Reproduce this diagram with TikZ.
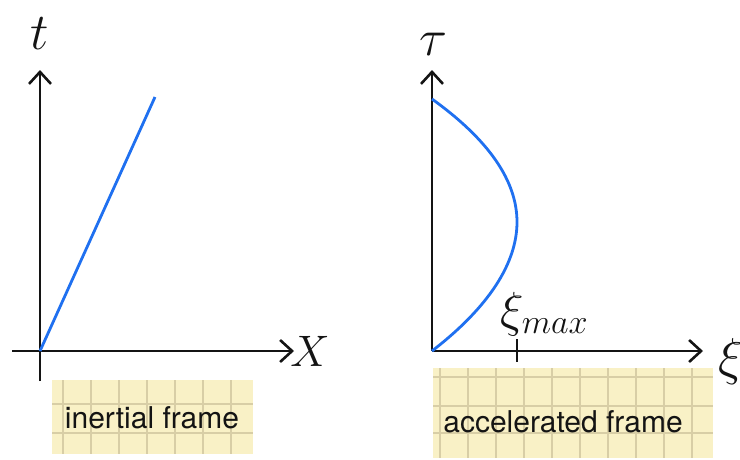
\documentclass[tikz,border=0pt]{standalone}
\usepackage{fontspec}
\setmainfont{TeX Gyre Heros}
\usepackage{tikz}
\usetikzlibrary{arrows.meta}
\definecolor{worldBlue}{HTML}{1F70F0}
\definecolor{padYellow}{HTML}{F9F1C6}
\definecolor{padLine}{HTML}{D8CEA6}
\definecolor{inkBlack}{HTML}{141414}
\tikzset{
  axis/.style    = {-{Straight Barb[length=12pt,width=22pt,line width=2.6pt]}, draw=inkBlack, line width=2.6pt},
  world/.style   = {draw=worldBlue, line width=2.8pt},
  pad/.style     = {fill=padYellow, draw=none},
  padgrid/.style = {draw=padLine, line width=1.2pt},
  tag/.style     = {font=\fontsize{30}{36}\selectfont, inner sep=0pt, text=inkBlack},
  hand/.style    = {font=\LARGE, scale=3, transform shape, inner sep=0pt, text=inkBlack},
  tickmark/.style= {draw=inkBlack, line width=2.6pt}
}
\begin{document}
\begin{tikzpicture}[x=1pt,y=-1pt]
  \useasboundingbox (0,0) rectangle (740,459);

  % inertial frame
  \fill[pad] (52,380) rectangle (253,454);
  \foreach \x in {63,91,...,235} \draw[padgrid] (\x,380) -- (\x,454);
  \foreach \y in {404,433} \draw[padgrid] (52,\y) -- (253,\y);
  \node[tag] (inert) at (152,418) {inertial frame};

  \coordinate (o1) at (40,351);
  \coordinate (t1) at (40,70);
  \coordinate (x1) at (294,351);
  \coordinate (t1low) at (40,381);
  \coordinate (x1left) at (12,351);
  \coordinate (w1) at (155,97);
  \draw[axis] (t1low) -- (t1);
  \draw[axis] (x1left) -- (x1);
  \draw[world] (o1) -- (w1);
  \node[hand] (tlab) at (40,34) {$t$};
  \node[hand, scale=0.85] (xlab) at (310,351) {$X$};

  % accelerated frame
  \fill[pad] (433,368) rectangle (713,458);
  \foreach \x in {440,468,...,712} \draw[padgrid] (\x,368) -- (\x,458);
  \foreach \y in {377,406,433} \draw[padgrid] (433,\y) -- (713,\y);
  \node[tag] (accel) at (563,422) {accelerated frame};

  \coordinate (o2) at (432,351);
  \coordinate (t2) at (432,70);
  \coordinate (x2) at (703,351);
  \coordinate (w2top) at (432,99);
  \coordinate (w2max) at (517,222);
  \draw[axis] (o2) -- (t2);
  \draw[axis] (o2) -- (x2);
  \draw[world] (w2top) .. controls (489,140) and (517,181) .. (w2max)
               .. controls (517,263) and (489,307) .. (o2);
  \coordinate (tickhi) at (517,339);
  \coordinate (ticklo) at (517,362);
  \draw[tickmark] (tickhi) -- (ticklo);
  \node[hand, scale=0.95] (ximax) at (545,314) {$\xi_{max}$};
  \node[hand] (taulab) at (433,44) {$\tau$};
  \node[hand] (xilab) at (731,362) {$\xi$};
\end{tikzpicture}
\end{document}
